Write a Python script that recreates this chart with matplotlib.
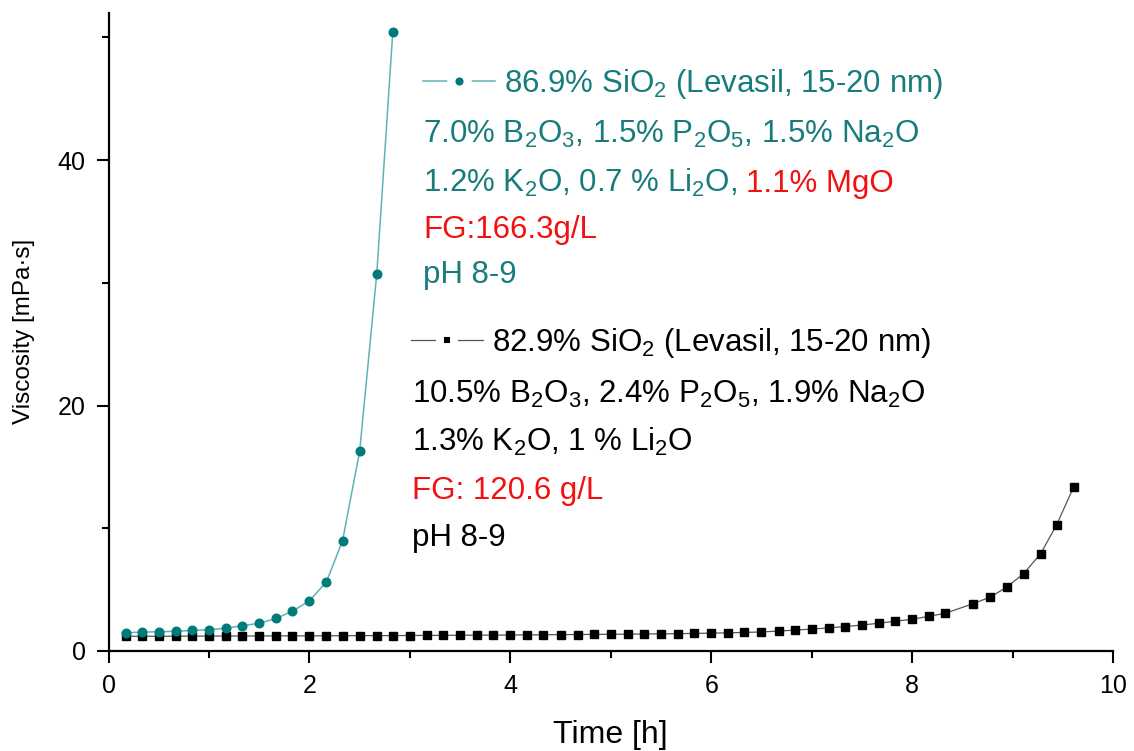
import matplotlib
matplotlib.use("Agg")
import matplotlib.pyplot as plt
from matplotlib.lines import Line2D
from matplotlib.ticker import MultipleLocator

plt.rcParams["font.family"] = ["Liberation Sans", "DejaVu Sans"]
plt.rcParams["mathtext.fontset"] = "custom"
plt.rcParams["mathtext.rm"] = "Liberation Sans"
plt.rcParams["mathtext.it"] = "Liberation Sans:italic"
plt.rcParams["mathtext.bf"] = "Liberation Sans:bold"

TEAL = "#007b7b"
TEAL_LINE = "#5fb3b3"
TEAL_TXT = "#187c7c"
RED = "#f21010"

# 86.9% SiO2 sol (MgO-containing)
t_mg = [0.17, 0.33, 0.50, 0.67, 0.83, 1.00, 1.17, 1.33, 1.50, 1.67, 1.83, 2.00,
        2.17, 2.33, 2.50, 2.67, 2.83]
v_mg = [1.50, 1.53, 1.57, 1.60, 1.67, 1.74, 1.85, 2.06, 2.26, 2.65, 3.24, 4.08,
        5.64, 8.99, 16.27, 30.7, 50.45]

# 82.9% SiO2 sol
t_ref = [0.17, 0.33, 0.50, 0.67, 0.83, 1.00, 1.17, 1.33, 1.50, 1.67, 1.83, 2.00,
         2.17, 2.33, 2.50, 2.67, 2.83, 3.00, 3.17, 3.33, 3.50, 3.67, 3.83, 4.00,
         4.17, 4.33, 4.50, 4.67, 4.83, 5.00, 5.17, 5.33, 5.50, 5.67, 5.83, 6.00,
         6.17, 6.33, 6.50, 6.67, 6.83, 7.00, 7.17, 7.33, 7.50, 7.67, 7.83, 8.00,
         8.17, 8.33, 8.61, 8.78, 8.94, 9.11, 9.28, 9.44, 9.61]
v_ref = [1.20, 1.20, 1.20, 1.20, 1.21, 1.21, 1.22, 1.22, 1.22, 1.23, 1.23, 1.23,
         1.24, 1.24, 1.25, 1.25, 1.25, 1.26, 1.27, 1.27, 1.28, 1.29, 1.29, 1.30,
         1.31, 1.32, 1.33, 1.34, 1.35, 1.36, 1.37, 1.38, 1.40, 1.41, 1.43, 1.45,
         1.48, 1.51, 1.55, 1.62, 1.70, 1.78, 1.88, 1.99, 2.11, 2.26, 2.42, 2.58,
         2.83, 3.07, 3.86, 4.40, 5.19, 6.30, 7.93, 10.3, 13.4]

fig = plt.figure(figsize=(11.34, 7.51), dpi=100)
ax = fig.add_axes([0.0957, 0.1332, 0.8858, 0.8498])

ax.plot(t_ref, v_ref, color="#555555", lw=0.9, marker="s", ms=5.8,
        mfc="black", mec="black", zorder=3)
ax.plot(t_mg, v_mg, color=TEAL_LINE, lw=1.1, marker="o", ms=6.2,
        mfc=TEAL, mec=TEAL, zorder=4)

ax.set_xlim(0, 10)
ax.set_ylim(0, 52)
ax.xaxis.set_major_locator(MultipleLocator(2))
ax.xaxis.set_minor_locator(MultipleLocator(1))
ax.yaxis.set_major_locator(MultipleLocator(20))
ax.yaxis.set_minor_locator(MultipleLocator(10))
for s in ("top", "right"):
    ax.spines[s].set_visible(False)
for s in ("left", "bottom"):
    ax.spines[s].set_linewidth(1.6)
ax.tick_params(which="major", direction="out", length=8.5, width=1.5,
               labelsize=18, pad=8)
ax.tick_params(which="minor", direction="out", length=5, width=1.5)
ax.set_xlabel("Time [h]", fontsize=23, labelpad=16)
ax.set_ylabel("Viscosity [mPa·s]", fontsize=17.5, labelpad=16)

FS = 22.5

# legend entries: marker with a white ring so the line stops short of it
h_mg = Line2D([], [], color=TEAL_LINE, lw=1.1, marker="o", ms=11.8, mfc=TEAL,
              mec="white", mew=5.8)
h_ref = Line2D([], [], color="#555555", lw=0.9, marker="s", ms=10.6, mfc="black",
               mec="white", mew=5.7)
leg1 = ax.legend([h_mg], [r"86.9% SiO$_\mathregular{2}$ (Levasil, 15-20 nm)"],
                 loc="center left", bbox_to_anchor=(423 / 1134, 1 - 84 / 751),
                 bbox_transform=fig.transFigure, frameon=False, fontsize=FS,
                 handlelength=2.3, handletextpad=0.3, borderpad=0,
                 borderaxespad=0, numpoints=1)
for txt in leg1.get_texts():
    txt.set_color(TEAL_TXT)
ax.add_artist(leg1)
leg2 = ax.legend([h_ref], [r"82.9% SiO$_\mathregular{2}$ (Levasil, 15-20 nm)"],
                 loc="center left", bbox_to_anchor=(411 / 1134, 1 - 343 / 751),
                 bbox_transform=fig.transFigure, frameon=False, fontsize=FS,
                 handlelength=2.3, handletextpad=0.3, borderpad=0,
                 borderaxespad=0, numpoints=1)


def line(x, y, parts):
    """Write one text line made of coloured pieces, baseline at pixel y."""
    fig.canvas.draw()
    xf, yf = x / 1134, 1 - y / 751
    for s, c, gap in parts:
        xf += gap / fig.bbox.width
        t = fig.text(xf, yf, s, color=c, fontsize=FS, ha="left", va="baseline")
        fig.canvas.draw()
        xf = t.get_window_extent().x1 / fig.bbox.width


line(423, 143, [(r"7.0% B$_\mathregular{2}$O$_\mathregular{3}$, 1.5% P$_\mathregular{2}$O$_\mathregular{5}$, 1.5% Na$_\mathregular{2}$O", TEAL_TXT, 0)])
line(423, 192, [(r"1.2% K$_\mathregular{2}$O, 0.7 % Li$_\mathregular{2}$O,", TEAL_TXT, 0),
                ("1.1% MgO", RED, 9)])
line(423, 238, [("FG:166.3g/L", RED, 0)])
line(423, 283, [("pH 8-9", TEAL_TXT, 0)])

line(412, 403, [(r"10.5% B$_\mathregular{2}$O$_\mathregular{3}$, 2.4% P$_\mathregular{2}$O$_\mathregular{5}$, 1.9% Na$_\mathregular{2}$O", "black", 0)])
line(412, 451, [(r"1.3% K$_\mathregular{2}$O, 1 % Li$_\mathregular{2}$O", "black", 0)])
line(412, 499, [("FG: 120.6 g/L", RED, 0)])
line(412, 546, [("pH 8-9", "black", 0)])

fig.savefig("out.png", dpi=100, facecolor="white")
